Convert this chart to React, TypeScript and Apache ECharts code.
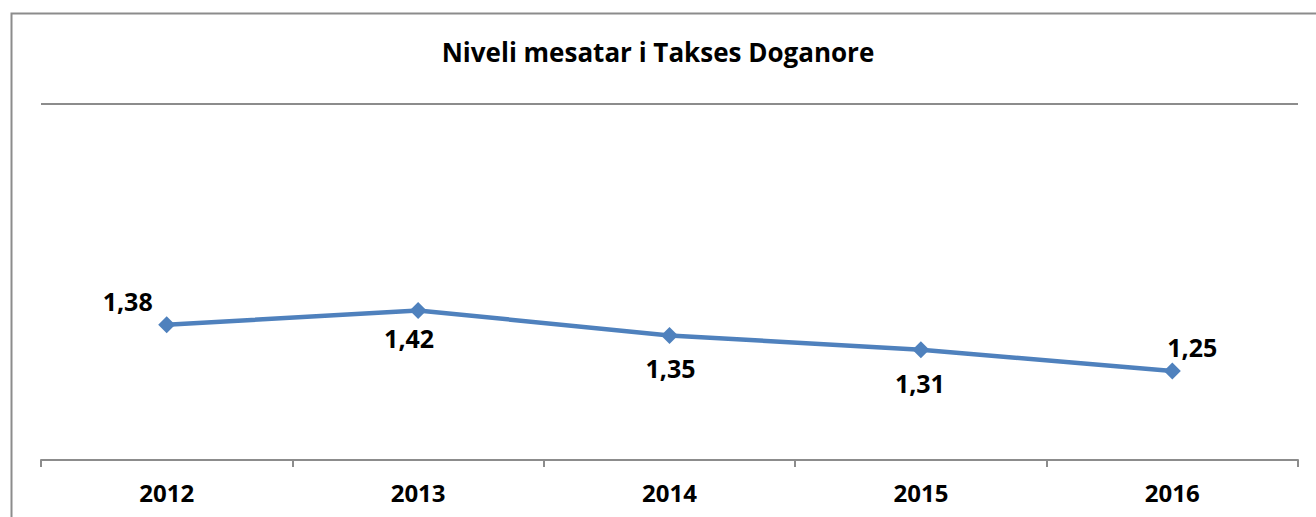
import React, { useEffect, useRef } from "react";
import * as echarts from "echarts";

const categories = ["2012", "2013", "2014", "2015", "2016"];
const values = [1.38, 1.42, 1.35, 1.31, 1.25];
const valueLabels = ["1,38", "1,42", "1,35", "1,31", "1,25"];
const labelOffsets: [number, number][] = [
  [-39, -24],
  [-9, 28],
  [1, 33],
  [-1, 33],
  [20, -24],
];
const titleText = "Niveli mesatar i Takses Doganore";

const FONT = "'Open Sans', Lato, sans-serif";

export default function App() {
  const ref = useRef<HTMLDivElement>(null);
  useEffect(() => {
    if (!ref.current) return;
    const chart = echarts.init(ref.current, undefined, { renderer: "svg" });
    chart.setOption({
      animation: false,
      backgroundColor: "#ffffff",
      title: {
        text: titleText,
        left: "center",
        top: 34,
        textStyle: { fontFamily: FONT, fontWeight: "bold", fontSize: 26, color: "#000" },
      },
      graphic: [
        {
          type: "rect",
          shape: { x: 11.5, y: 13.5, width: 1400, height: 600 },
          style: { fill: "none", stroke: "#8c8c8c", lineWidth: 2 },
          silent: true,
        },
      ],
      grid: { left: 41, right: 18, top: 104, bottom: 57, containLabel: false },
      xAxis: {
        type: "category",
        data: categories,
        boundaryGap: true,
        axisLine: { show: true, lineStyle: { color: "#8c8c8c", width: 2 } },
        axisTick: { show: true, interval: 0, length: 7, lineStyle: { color: "#8c8c8c", width: 2 } },
        axisLabel: {
          margin: 20,
          fontFamily: FONT,
          fontWeight: "bold",
          fontSize: 24,
          color: "#000",
        },
      },
      yAxis: {
        type: "value",
        min: 1,
        max: 2,
        interval: 1,
        axisLine: { show: false },
        axisTick: { show: false },
        axisLabel: { show: false },
        splitLine: { show: true, lineStyle: { color: "#8c8c8c", width: 2 } },
      },
      series: [
        {
          type: "line",
          data: values.map((v, i) => ({
            value: v,
            label: {
              show: true,
              position: "inside",
              offset: labelOffsets[i],
              formatter: valueLabels[i],
            },
          })),
          lineStyle: { color: "#4f81bd", width: 4.5 },
          itemStyle: { color: "#4f81bd" },
          symbol: "diamond",
          symbolSize: 17,
          label: {
            fontFamily: FONT,
            fontWeight: "bold",
            fontSize: 25,
            color: "#000",
          },
        },
      ],
    });
    return () => chart.dispose();
  }, []);
  return (
    <div
      ref={ref}
      style={{ position: "fixed", left: 0, top: 0, width: 1316, height: 517 }}
    />
  );
}
